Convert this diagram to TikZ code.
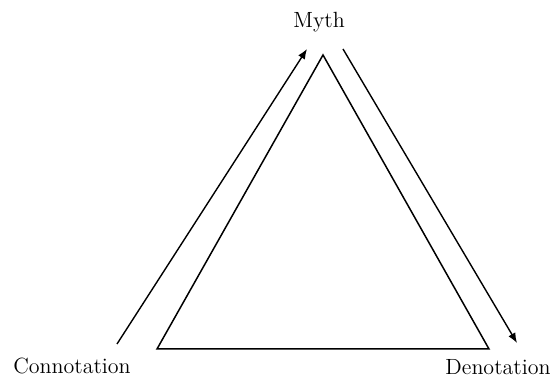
\documentclass[tikz,border=0pt]{standalone}
\usepackage{tikz}
\usetikzlibrary{arrows.meta}

\begin{document}
\begin{tikzpicture}[x=0.5pt,y=-0.5pt,
    label/.style={font=\fontsize{11}{13}\selectfont,inner sep=0pt},
    side/.style={line width=0.75pt},
    flow/.style={line width=0.7pt,-{Latex[length=5pt,width=4pt]}}]
  \useasboundingbox (0,0) rectangle (558,378);
  % corners of the triangle
  \coordinate (top) at (323,55);
  \coordinate (bl) at (157,349);
  \coordinate (br) at (489,349);
  \draw[side] (top) -- (bl) -- (br) -- cycle;
  % labels
  \node[label] (myth) at (319,22) {Myth};
  \node[label] (conn) at (72,366) {Connotation};
  \node[label] (deno) at (498,367) {Denotation};
  % arrows along the sides
  \coordinate (c1) at (117,344);
  \coordinate (c2) at (307,49);
  \coordinate (d1) at (343,49);
  \coordinate (d2) at (517,343);
  \draw[flow] (c1) -- (c2);
  \draw[flow] (d1) -- (d2);
\end{tikzpicture}
\end{document}
